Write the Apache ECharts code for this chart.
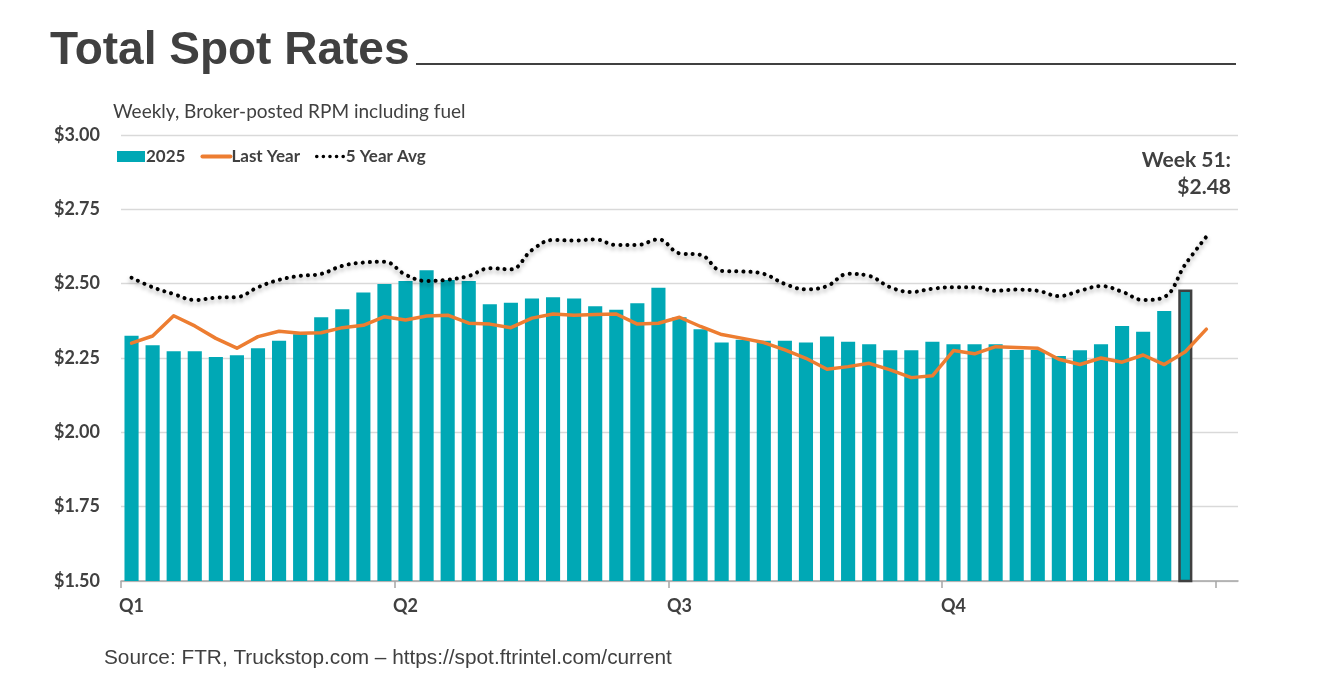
<!DOCTYPE html>
<html>
<head>
<meta charset="utf-8">
<script src="https://cdn.jsdelivr.net/npm/echarts@6/dist/echarts.min.js"></script>
<style>
html,body{margin:0;padding:0;background:#fff;}
#chart{width:1326px;height:695px;}
</style>
</head>
<body>
<div id="chart"></div>
<script>
// ---- data ----
const quarterLabels = ['Q1', 'Q2', 'Q3', 'Q4'];
const weekCount = 53; // 52 weeks + one empty slot at the right of the plot
const yearWeeks = 52;

const spot2025 = [
  2.325, 2.293, 2.273, 2.273, 2.253, 2.259, 2.283, 2.308, 2.330, 2.387,
  2.414, 2.470, 2.499, 2.509, 2.545, 2.512, 2.509, 2.431, 2.436, 2.450,
  2.454, 2.450, 2.424, 2.412, 2.434, 2.486, 2.387, 2.347, 2.302, 2.311,
  2.308, 2.308, 2.302, 2.322, 2.305, 2.296, 2.276, 2.276, 2.305, 2.296,
  2.296, 2.296, 2.277, 2.277, 2.257, 2.276, 2.296, 2.358, 2.338, 2.408,
  2.480
];

const lastYear = [
  2.300, 2.324, 2.392, 2.358, 2.316, 2.283, 2.322, 2.340, 2.333, 2.335,
  2.352, 2.360, 2.389, 2.378, 2.391, 2.394, 2.367, 2.364, 2.352, 2.384,
  2.398, 2.394, 2.396, 2.398, 2.364, 2.367, 2.387, 2.356, 2.329, 2.316,
  2.302, 2.277, 2.249, 2.212, 2.221, 2.232, 2.210, 2.184, 2.190, 2.275,
  2.264, 2.288, 2.285, 2.283, 2.246, 2.228, 2.250, 2.236, 2.260, 2.228,
  2.271, 2.347
];

const fiveYearAvg = [
  2.520, 2.488, 2.465, 2.445, 2.453, 2.455, 2.488, 2.513, 2.526, 2.533,
  2.560, 2.571, 2.574, 2.530, 2.509, 2.513, 2.526, 2.552, 2.548, 2.613,
  2.647, 2.645, 2.649, 2.630, 2.630, 2.649, 2.602, 2.597, 2.543, 2.541,
  2.533, 2.499, 2.481, 2.492, 2.533, 2.526, 2.488, 2.472, 2.483, 2.488,
  2.488, 2.476, 2.480, 2.476, 2.458, 2.476, 2.492, 2.473, 2.445, 2.455,
  2.565, 2.658
];

const yTicks = { min: 1.5, max: 3.0, interval: 0.25 };
const latestLabel = ['Week 51:', '$2.48'];

// ---- build ----
const weeks = [];
for (let i = 0; i < weekCount; i++) weeks.push('W' + (i + 1));
const tickWeeks = weeks.slice(0, yearWeeks);

const barData = spot2025.map((v, i) => {
  if (i === spot2025.length - 1) {
    return { value: v, itemStyle: { borderColor: '#404040', borderWidth: 2.5 } };
  }
  return v;
});

const TXT = '#404040';
const AX = '#A6A6A6';
const ORANGE = '#ED7D31';
const TEAL = '#00A8B5';
const orangeStyle = { color: ORANGE, width: 3.5, cap: 'round', join: 'round' };
const dotStyle = {
  color: '#000000', width: 4, type: [0.1, 7], cap: 'round',
  shadowColor: 'rgba(0,0,0,0.35)', shadowBlur: 4, shadowOffsetY: 3
};

const chart = echarts.init(document.getElementById('chart'), null, { renderer: 'canvas' });

chart.setOption({
  backgroundColor: '#ffffff',
  animation: false,
  title: [
    {
      text: 'Total Spot Rates',
      left: 45, top: 23,
      textStyle: { fontFamily: 'Liberation Sans', fontWeight: 'bold', fontSize: 46, color: TXT }
    },
    {
      text: 'Weekly, Broker-posted RPM including fuel',
      left: 108, top: 97,
      textStyle: { fontFamily: 'Lato', fontWeight: 'normal', fontSize: 19, color: TXT }
    },
    {
      text: 'Source: FTR, Truckstop.com \u2013 https://spot.ftrintel.com/current',
      left: 99, top: 643,
      textStyle: { fontFamily: 'Liberation Sans', fontWeight: 'normal', fontSize: 20.8, color: TXT }
    }
  ],
  graphic: [
    {
      type: 'line',
      shape: { x1: 416, y1: 64, x2: 1236, y2: 64 },
      style: { stroke: '#404040', lineWidth: 2 }
    },
    {
      type: 'text',
      right: 95, top: 150,
      style: { text: latestLabel[0], fill: TXT, font: 'bold 21px Lato' }
    },
    {
      type: 'text',
      right: 95, top: 177,
      style: { text: latestLabel[1], fill: TXT, font: 'bold 21px Lato' }
    }
  ],
  legend: {
    left: 117, top: 148, padding: 0,
    itemWidth: 28, itemHeight: 11, itemGap: 15,
    textStyle: { fontFamily: 'Lato', fontWeight: 'bold', fontSize: 17, color: TXT, padding: [0, 0, 0, -4] },
    data: [
      { name: '2025', icon: 'rect' },
      { name: 'Last Year', itemStyle: { opacity: 0 }, lineStyle: { color: ORANGE, width: 4, cap: 'round' } },
      { name: '5 Year Avg', itemStyle: { opacity: 0 }, lineStyle: { color: '#000000', width: 3.5, type: [0.1, 6.5], cap: 'round' } }
    ]
  },
  grid: [
    { left: 121, right: 88, top: 135, bottom: 114, containLabel: false },
    { left: 121, right: 110, top: 135, bottom: 114, containLabel: false }
  ],
  xAxis: [
    {
      type: 'category',
      gridIndex: 0,
      data: weeks,
      boundaryGap: true,
      axisLine: { show: true, lineStyle: { color: AX, width: 1.5 } },
      axisTick: { show: false },
      axisLabel: {
        interval: (i) => i % 13 === 0 && i < yearWeeks,
        formatter: (v, i) => quarterLabels[Math.floor(i / 13)] || '',
        fontFamily: 'Lato', fontWeight: 'bold', fontSize: 18, color: TXT,
        margin: 16
      },
      splitLine: { show: false }
    },
    {
      type: 'category',
      gridIndex: 1,
      data: tickWeeks,
      boundaryGap: true,
      axisLine: { show: false },
      axisTick: {
        show: true,
        interval: (i) => i % 13 === 0,
        length: 7,
        lineStyle: { color: AX, width: 1.5 }
      },
      axisLabel: { show: false },
      splitLine: { show: false }
    }
  ],
  yAxis: [
    {
      type: 'value',
      gridIndex: 0,
      min: yTicks.min, max: yTicks.max, interval: yTicks.interval,
      axisLine: { show: false },
      axisTick: { show: false },
      axisLabel: {
        formatter: (v) => '$' + v.toFixed(2),
        fontFamily: 'Lato', fontWeight: 'bold', fontSize: 18, color: TXT,
        margin: 21
      },
      splitLine: { lineStyle: { color: '#D9D9D9', width: 1.3 } }
    },
    {
      type: 'value',
      gridIndex: 1,
      min: yTicks.min, max: yTicks.max, interval: yTicks.interval,
      show: false
    }
  ],
  series: [
    {
      name: '2025',
      type: 'bar',
      data: barData,
      barCategoryGap: '33%',
      itemStyle: { color: TEAL },
      z: 2
    },
    {
      name: 'Last Year',
      type: 'line',
      data: lastYear,
      symbol: 'none',
      smooth: false,
      itemStyle: { color: ORANGE },
      lineStyle: orangeStyle,
      z: 4
    },
    {
      name: '5 Year Avg',
      type: 'line',
      data: fiveYearAvg,
      symbol: 'none',
      smooth: 0.4,
      itemStyle: { color: '#000000' },
      lineStyle: dotStyle,
      z: 3
    }
  ]
});
</script>
</body>
</html>
